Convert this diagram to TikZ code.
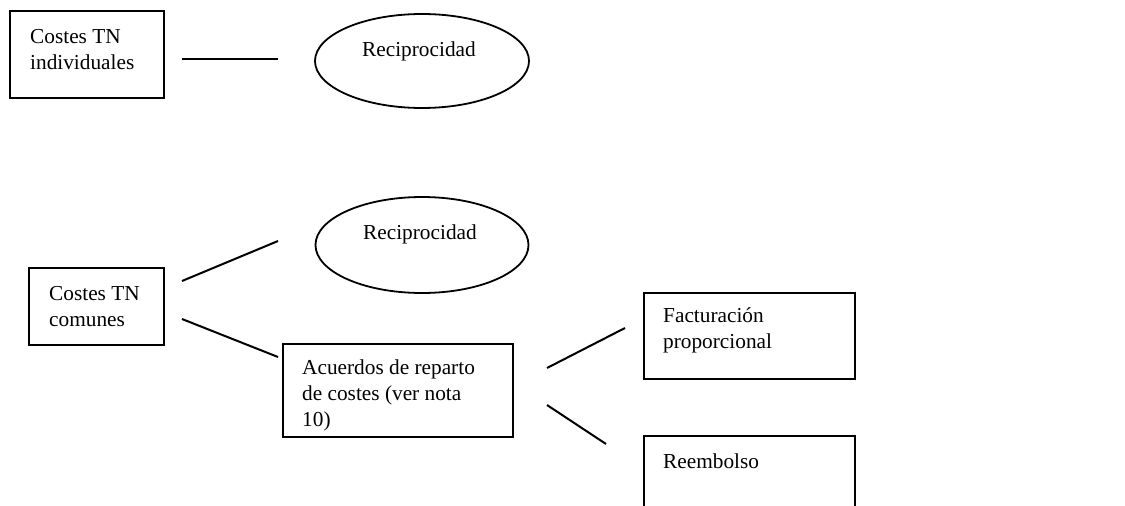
\documentclass[tikz,border=0pt]{standalone}
\usepackage{fontspec}
\setmainfont{Liberation Serif}
\usetikzlibrary{shapes.geometric}
\tikzset{
  box/.style={draw=black, line width=2pt, rectangle, inner sep=0pt, anchor=north west},
  oval/.style={draw=black, line width=1.8pt, ellipse, inner sep=0pt},
  txt/.style={inner sep=0pt, anchor=base west, align=left, font=\fontsize{21.3}{26}\selectfont},
  conn/.style={draw=black, line width=2pt}
}
\begin{document}
\begin{tikzpicture}[x=1pt,y=-1pt]
\useasboundingbox (0,0) rectangle (1125,506);
\fill[white] (0,0) rectangle (1125,506);
\begin{scope}
\clip (0,0) rectangle (1125,506);
% top row
\node[box, minimum width=154pt, minimum height=87pt] (b1) at (9,10) {};
\node[txt] (t1) at (30,69) {Costes TN\\individuales};
\node[oval, minimum width=214pt, minimum height=94pt] (e1) at (422,61) {};
\node[txt] (te1) at (362,56) {Reciprocidad};
\coordinate (c1a) at (182,59);
\coordinate (c1b) at (278,59);
\draw[conn] (c1a) -- (c1b);
% bottom part
\node[box, minimum width=135pt, minimum height=77pt] (b2) at (28,267) {};
\node[txt] (t2) at (49,326) {Costes TN\\comunes};
\node[oval, minimum width=213pt, minimum height=96pt] (e2) at (422,245) {};
\node[txt] (te2) at (363,239) {Reciprocidad};
\node[box, minimum width=230pt, minimum height=93pt] (b3) at (282,343) {};
\node[txt] (t3) at (302,426) {Acuerdos de reparto\\de costes (ver nota\\10)};
\node[box, minimum width=211pt, minimum height=86pt] (b4) at (643,292) {};
\node[txt] (t4) at (663,348) {Facturación\\proporcional};
\node[box, minimum width=211pt, minimum height=100pt] (b5) at (643,435) {};
\node[txt] (t5) at (663,468) {Reembolso};
\coordinate (c2a) at (182,281);
\coordinate (c2b) at (278,241);
\coordinate (c3a) at (182,319);
\coordinate (c3b) at (278,357);
\coordinate (c4a) at (547,368);
\coordinate (c4b) at (625,328);
\coordinate (c5a) at (547,405);
\coordinate (c5b) at (606,444);
\draw[conn] (c2a) -- (c2b);
\draw[conn] (c3a) -- (c3b);
\draw[conn] (c4a) -- (c4b);
\draw[conn] (c5a) -- (c5b);
\end{scope}
\end{tikzpicture}
\end{document}
